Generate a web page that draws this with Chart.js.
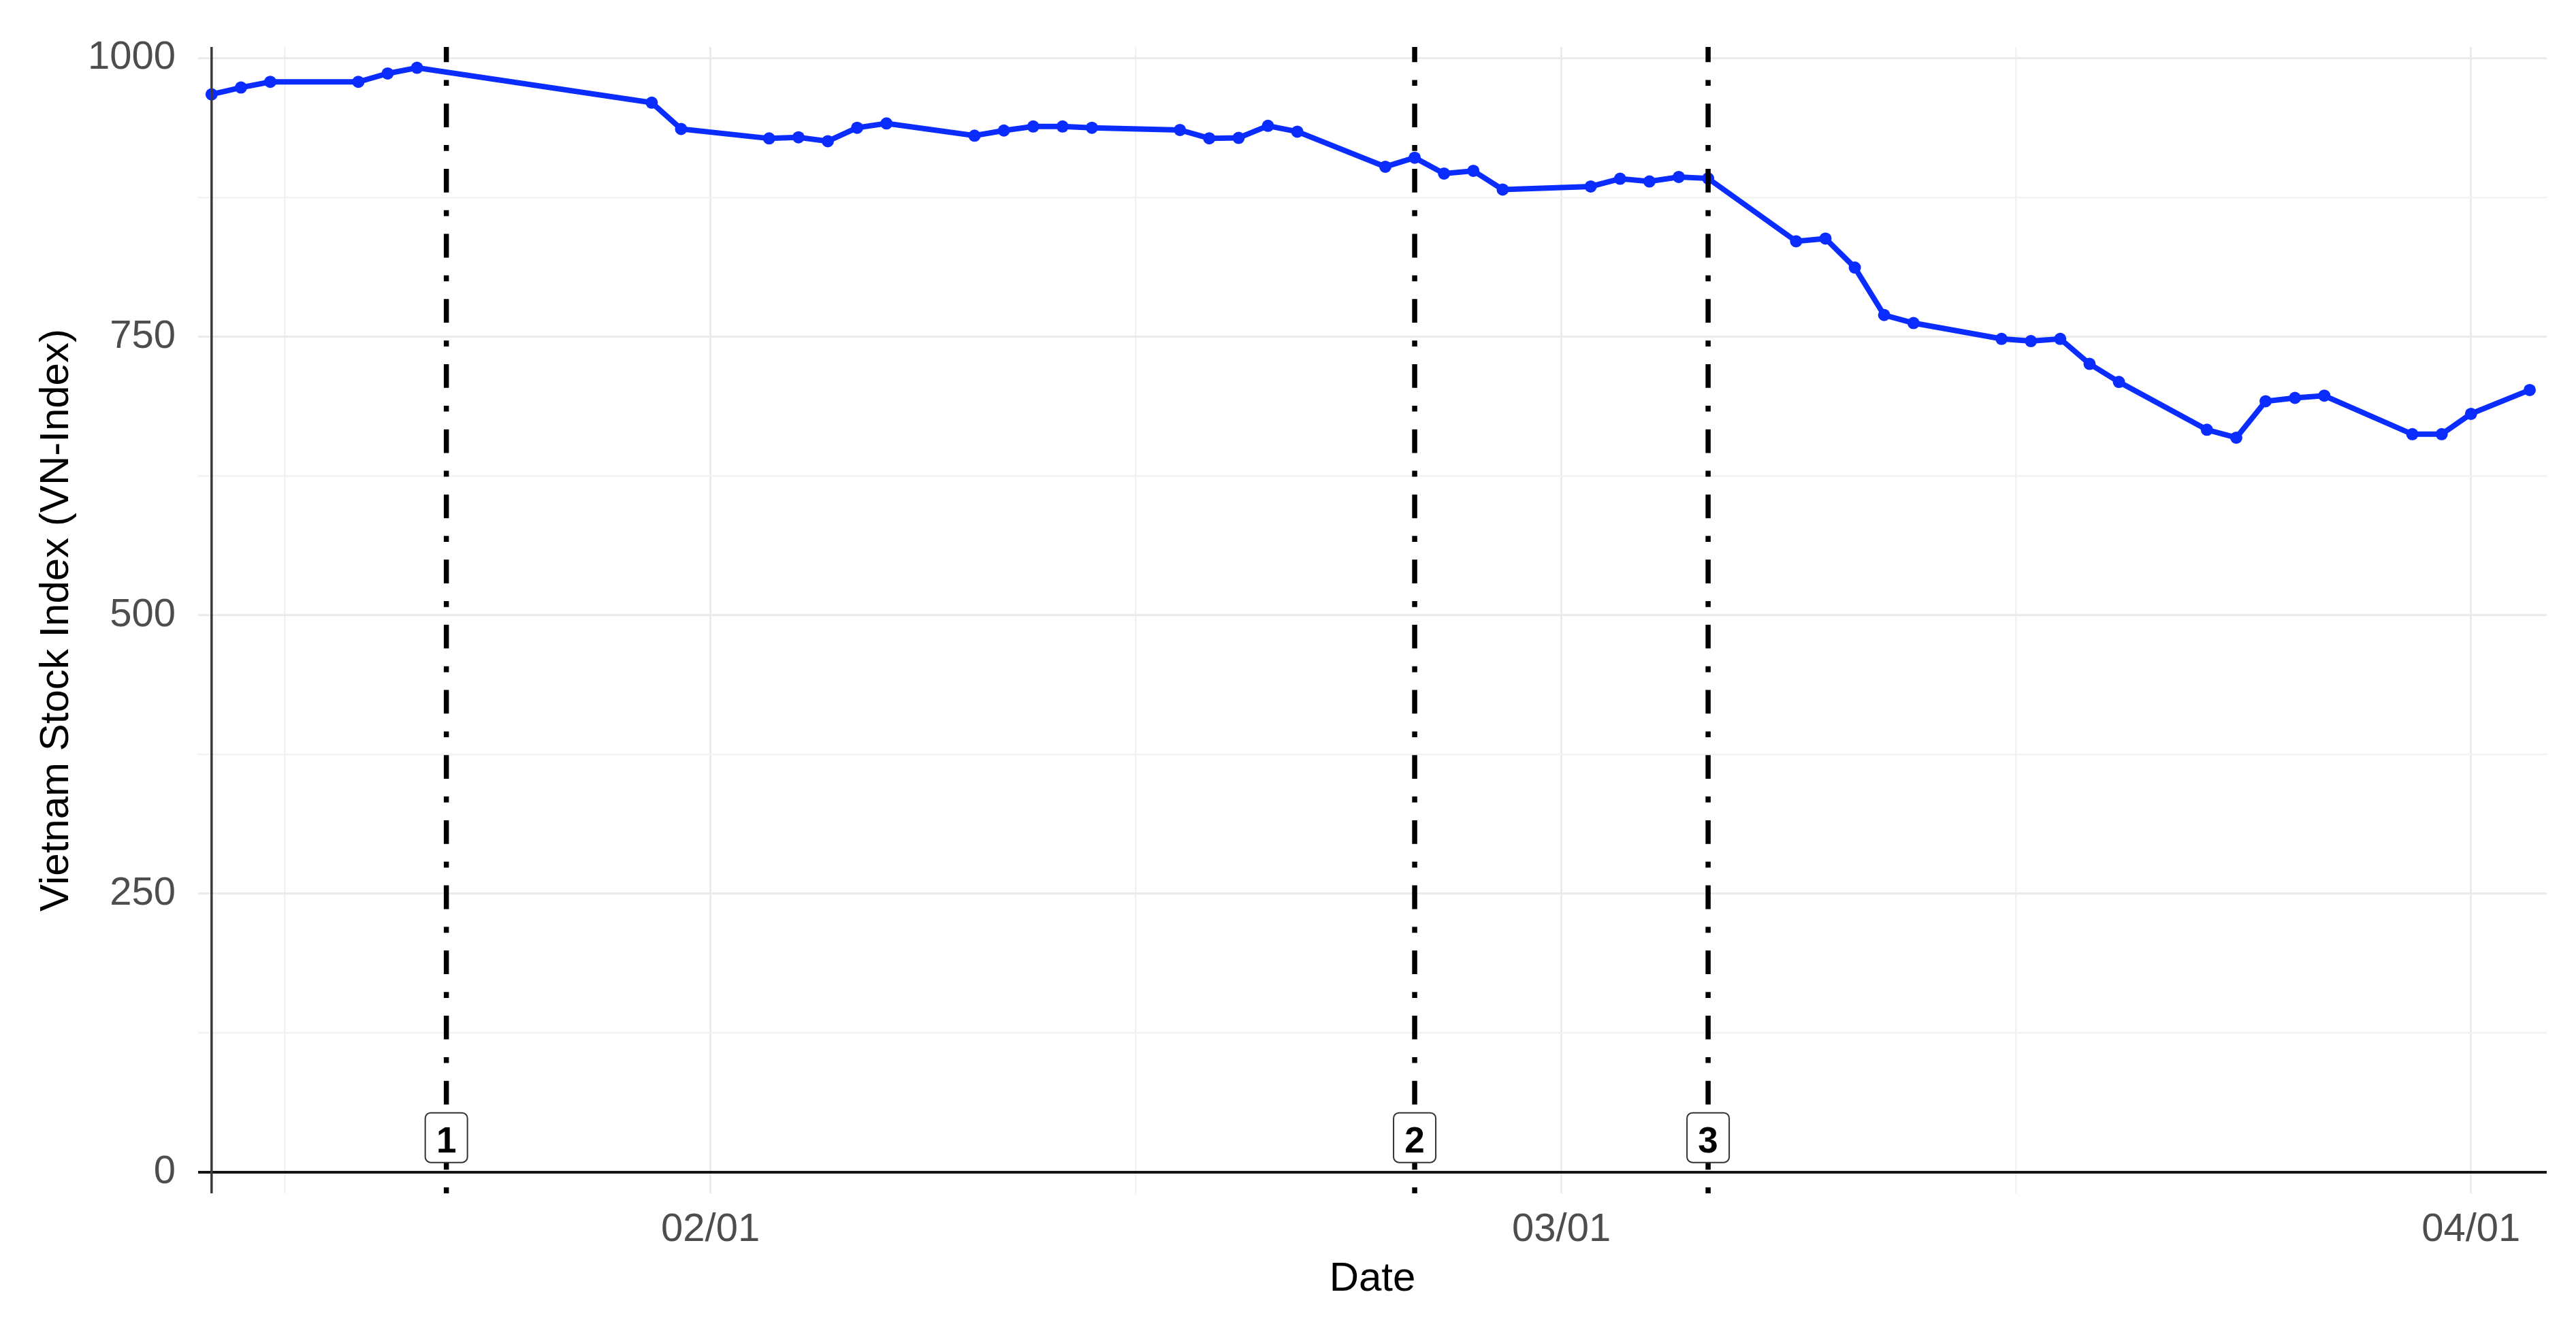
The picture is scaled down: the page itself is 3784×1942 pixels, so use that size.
<!DOCTYPE html>
<html>
<head>
<meta charset="utf-8">
<script src="https://cdn.jsdelivr.net/npm/chart.js@4.4.1/dist/chart.umd.min.js"></script>
<style>
  html, body { margin: 0; padding: 0; background: #ffffff; }
  canvas { display: block; }
</style>
</head>
<body>
<canvas id="vn-chart" width="3784" height="1942"></canvas>
<script>
// trading days and VN-Index close
const tradeDates = [
    '2020-01-15', '2020-01-16', '2020-01-17', '2020-01-20', '2020-01-21', '2020-01-22',
    '2020-01-30', '2020-01-31', '2020-02-03', '2020-02-04', '2020-02-05', '2020-02-06',
    '2020-02-07', '2020-02-10', '2020-02-11', '2020-02-12', '2020-02-13', '2020-02-14',
    '2020-02-17', '2020-02-18', '2020-02-19', '2020-02-20', '2020-02-21', '2020-02-24',
    '2020-02-25', '2020-02-26', '2020-02-27', '2020-02-28', '2020-03-02', '2020-03-03',
    '2020-03-04', '2020-03-05', '2020-03-06', '2020-03-09', '2020-03-10', '2020-03-11',
    '2020-03-12', '2020-03-13', '2020-03-16', '2020-03-17', '2020-03-18', '2020-03-19',
    '2020-03-20', '2020-03-23', '2020-03-24', '2020-03-25', '2020-03-26', '2020-03-27',
    '2020-03-30', '2020-03-31', '2020-04-01', '2020-04-03'
];
const vnIndex = [
    967.5, 973.6, 978.7, 978.7, 986.2, 991.3,
    960.0, 936.4, 927.9, 928.9, 925.4, 937.5,
    941.4, 930.4, 935.0, 938.6, 938.6, 937.5,
    935.5, 928.0, 928.4, 939.2, 934.0, 902.5,
    910.6, 896.4, 898.8, 882.0, 884.8, 891.7,
    889.3, 893.3, 892.0, 835.6, 838.0, 812.0,
    769.4, 762.2, 748.0, 746.0, 748.0, 725.5,
    709.3, 666.4, 659.3, 692.0, 695.0, 697.0,
    662.4, 662.4, 680.7, 702.1
];

// marked events (dash-dot lines with numbered boxes)
const eventDates = ['2020-01-23', '2020-02-25', '2020-03-06'];
const eventLabels = ['1', '2', '3'];
const eventLabelY = 31;

// axis ticks
const xTickDates = ['2020-02-01', '2020-03-01', '2020-04-01'];
const xTickLabels = ['02/01', '03/01', '04/01'];
const yTicks = [0, 250, 500, 750, 1000];

const BLUE = '#0a2cff';
const TEXT_GREY = '#4d4d4d';

function dayNum(s) {
    const [y, m, d] = s.split('-').map(Number);
    return (Date.UTC(y, m - 1, d) - Date.UTC(2020, 0, 1)) / 86400000;
}

// minor breaks the way ggplot places them: halfway between majors,
// with one extra major extrapolated on the left
function minorBetween(majors) {
    const step = majors[1] - majors[0];
    const b = [majors[0] - step, ...majors];
    const out = [];
    for (let i = 0; i < b.length - 1; i++) out.push((b[i] + b[i + 1]) / 2);
    return out;
}

const xMajors = xTickDates.map(dayNum);
const xMinors = minorBetween(xMajors);
const yMinors = minorBetween(yTicks).filter(v => v > 0);

const points = tradeDates.map((d, i) => ({ x: dayNum(d), y: vnIndex[i] }));

const overlayPlugin = {
    id: 'overlay',
    afterDatasetsDraw(chart) {
        const { ctx, chartArea: area, scales: { x, y } } = chart;
        ctx.save();

        // zero line
        const y0 = y.getPixelForValue(0);
        ctx.strokeStyle = '#141414';
        ctx.lineWidth = 4;
        ctx.beginPath();
        ctx.moveTo(area.left, y0);
        ctx.lineTo(area.right, y0);
        ctx.stroke();

        // vertical line at the first trading day
        const xStart = x.getPixelForValue(dayNum(tradeDates[0]));
        ctx.strokeStyle = '#3a3a3a';
        ctx.lineWidth = 3.5;
        ctx.beginPath();
        ctx.moveTo(xStart, area.top);
        ctx.lineTo(xStart, area.bottom);
        ctx.stroke();

        // dash-dot event lines, pattern starts at the bottom
        ctx.strokeStyle = '#000000';
        ctx.lineWidth = 7.5;
        ctx.lineCap = 'butt';
        ctx.setLineDash([8.7, 26.1, 34.8, 26.1]);
        eventDates.forEach(d => {
            const px = x.getPixelForValue(dayNum(d));
            ctx.beginPath();
            ctx.moveTo(px, area.bottom);
            ctx.lineTo(px, area.top);
            ctx.stroke();
        });
        ctx.setLineDash([]);

        // numbered boxes
        const boxW = 62, boxH = 73, r = 8;
        ctx.font = 'bold 53px "Liberation Sans", Arial, sans-serif';
        ctx.textAlign = 'center';
        ctx.textBaseline = 'alphabetic';
        eventDates.forEach((d, i) => {
            const cx = x.getPixelForValue(dayNum(d));
            const cy = y.getPixelForValue(eventLabelY);
            ctx.beginPath();
            ctx.roundRect(cx - boxW / 2, cy - boxH / 2, boxW, boxH, r);
            ctx.fillStyle = '#ffffff';
            ctx.fill();
            ctx.strokeStyle = '#333333';
            ctx.lineWidth = 2;
            ctx.stroke();
            ctx.fillStyle = '#000000';
            ctx.fillText(eventLabels[i], cx, cy + 22);
        });

        ctx.restore();
    }
};

Chart.defaults.font.family = '"Liberation Sans", Arial, sans-serif';

new Chart(document.getElementById('vn-chart'), {
    type: 'line',
    plugins: [overlayPlugin],
    data: {
        datasets: [{
            label: 'VN-Index',
            data: points,
            borderColor: BLUE,
            backgroundColor: BLUE,
            borderWidth: 8,
            pointRadius: 9,
            pointBorderWidth: 0,
            pointBackgroundColor: BLUE,
            tension: 0,
            fill: false
        }]
    },
    options: {
        responsive: false,
        devicePixelRatio: 1,
        animation: false,
        layout: { padding: { top: 69, right: 43, left: 0, bottom: 0 } },
        plugins: {
            legend: { display: false },
            tooltip: { enabled: false }
        },
        scales: {
            x: {
                type: 'linear',
                min: dayNum(tradeDates[0]) - 0.46,
                max: dayNum(tradeDates[tradeDates.length - 1]) + 0.58,
                afterBuildTicks: (scale) => {
                    const t = xMajors.map(v => ({ value: v, major: true }))
                        .concat(xMinors.map(v => ({ value: v, major: false })));
                    scale.ticks = t.sort((a, b) => a.value - b.value);
                },
                afterFit: (scale) => { scale.height = 189; },
                border: { display: false },
                grid: {
                    drawTicks: false,
                    color: (c) => (c.tick && c.tick.major ? '#ebebeb' : '#f2f2f2'),
                    lineWidth: (c) => (c.tick && c.tick.major ? 3 : 2.5)
                },
                ticks: {
                    autoSkip: false,
                    maxRotation: 0,
                    padding: 19,
                    color: TEXT_GREY,
                    font: { size: 58 },
                    callback: (value) => {
                        const i = xMajors.indexOf(value);
                        return i >= 0 ? xTickLabels[i] : '';
                    }
                },
                title: {
                    display: true,
                    text: 'Date',
                    color: '#000000',
                    font: { size: 60 },
                    padding: { top: 0, bottom: 27 }
                }
            },
            y: {
                min: -19,
                max: 1010,
                afterBuildTicks: (scale) => {
                    const t = yTicks.map(v => ({ value: v, major: true }))
                        .concat(yMinors.map(v => ({ value: v, major: false })));
                    scale.ticks = t.sort((a, b) => a.value - b.value);
                },
                afterFit: (scale) => { scale.width = 291; },
                border: { display: false },
                grid: {
                    drawTicks: false,
                    color: (c) => (c.tick && c.tick.major ? '#ebebeb' : '#f2f2f2'),
                    lineWidth: (c) => (c.tick && c.tick.major ? 3 : 2.5)
                },
                ticks: {
                    autoSkip: false,
                    padding: 33,
                    color: TEXT_GREY,
                    font: { size: 58 },
                    callback: (value) => (yTicks.includes(value) ? String(value) : '')
                },
                title: {
                    display: true,
                    text: 'Vietnam Stock Index (VN-Index)',
                    color: '#000000',
                    font: { size: 60 },
                    padding: { top: 47, bottom: 0 }
                }
            }
        }
    }
});
</script>
</body>
</html>
